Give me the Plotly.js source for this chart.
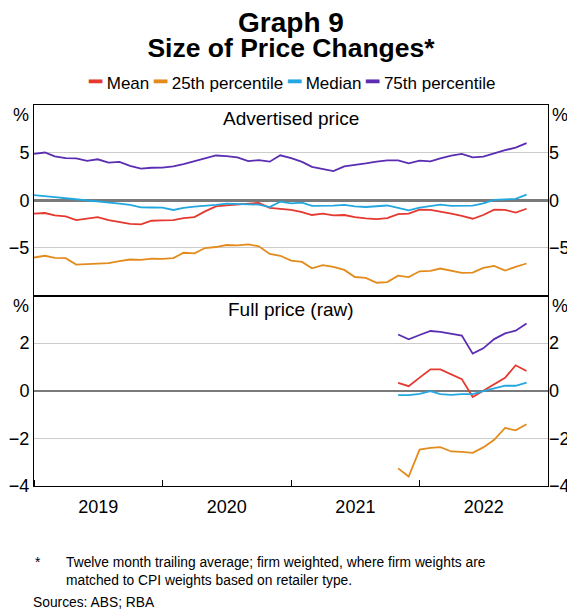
<!DOCTYPE html>
<html>
<head>
<meta charset="utf-8">
<script src="https://cdn.plot.ly/plotly-3.0.1.min.js"></script>
<style>html,body{margin:0;padding:0;background:#fff;}#chart{width:567px;height:615px;}</style>
</head>
<body>
<div id="chart"></div>
<script>
// Monthly dates, Jan 2019 – Nov 2022
const months = ['2019-01','2019-02','2019-03','2019-04','2019-05','2019-06','2019-07','2019-08','2019-09','2019-10','2019-11','2019-12',
  '2020-01','2020-02','2020-03','2020-04','2020-05','2020-06','2020-07','2020-08','2020-09','2020-10','2020-11','2020-12',
  '2021-01','2021-02','2021-03','2021-04','2021-05','2021-06','2021-07','2021-08','2021-09','2021-10','2021-11','2021-12',
  '2022-01','2022-02','2022-03','2022-04','2022-05','2022-06','2022-07','2022-08','2022-09','2022-10','2022-11'];
const fullMonths = ['2021-11','2021-12','2022-01','2022-02','2022-03','2022-04','2022-05','2022-06','2022-07','2022-08','2022-09','2022-10','2022-11'];

const seriesNames = ['Mean','25th percentile','Median','75th percentile'];
const seriesColors = ['#e5382f','#e38b1c','#22a7e0','#5a2db3'];

// Advertised price (%)
const advMean = [-1.41,-1.34,-1.59,-1.70,-2.08,-1.94,-1.77,-2.08,-2.30,-2.47,-2.54,-2.15,
  -2.12,-2.08,-1.87,-1.77,-1.17,-0.64,-0.53,-0.46,-0.35,-0.28,-0.80,-0.88,
  -1.02,-1.24,-1.55,-1.41,-1.59,-1.55,-1.77,-1.91,-1.98,-1.87,-1.45,-1.41,
  -0.99,-1.02,-1.24,-1.41,-1.63,-1.94,-1.55,-0.99,-1.02,-1.29,-0.89];
const advP25 = [-6.01,-5.83,-6.04,-6.08,-6.75,-6.71,-6.64,-6.61,-6.40,-6.22,-6.25,-6.13,
  -6.15,-6.08,-5.51,-5.58,-5.02,-4.91,-4.70,-4.74,-4.63,-4.84,-5.63,-5.83,
  -6.33,-6.47,-7.14,-6.82,-7.00,-7.31,-8.06,-8.16,-8.66,-8.59,-7.92,-8.06,
  -7.46,-7.42,-7.17,-7.42,-7.63,-7.60,-7.10,-6.89,-7.38,-7.00,-6.64];
const advMedian = [0.53,0.46,0.32,0.21,0.11,-0.07,-0.14,-0.21,-0.35,-0.49,-0.74,-0.76,
  -0.78,-1.02,-0.81,-0.67,-0.60,-0.49,-0.35,-0.39,-0.39,-0.46,-0.71,-0.14,
  -0.32,-0.25,-0.60,-0.60,-0.57,-0.49,-0.64,-0.71,-0.60,-0.55,-0.81,-1.06,
  -0.78,-0.60,-0.46,-0.60,-0.57,-0.57,-0.32,0.04,0.10,0.14,0.60];
const advP75 = [4.87,5.01,4.60,4.42,4.40,4.13,4.30,3.95,4.03,3.62,3.32,3.41,
  3.42,3.55,3.80,4.10,4.40,4.70,4.63,4.50,4.10,4.21,4.05,4.72,
  4.42,4.03,3.50,3.27,3.07,3.56,3.67,3.86,4.06,4.18,4.18,3.88,
  4.16,4.08,4.40,4.69,4.87,4.51,4.58,4.95,5.25,5.52,6.00];

// Full price (raw) (%)
const fullMean = [0.33,0.19,0.55,0.90,0.90,0.70,0.49,-0.26,0.00,0.25,0.54,1.07,0.83];
const fullP25 = [-3.26,-3.60,-2.47,-2.40,-2.37,-2.55,-2.57,-2.61,-2.38,-2.06,-1.56,-1.66,-1.41];
const fullMedian = [-0.18,-0.18,-0.13,-0.02,-0.14,-0.17,-0.14,-0.14,-0.02,0.08,0.21,0.21,0.34];
const fullP75 = [2.36,2.16,2.34,2.51,2.47,2.40,2.32,1.56,1.78,2.17,2.41,2.52,2.82];

const advTickVals = [-5, 0, 5];
const fullTickVals = [-4, -2, 0, 2];

const advSeries = [advMean, advP25, advMedian, advP75];
const fullSeries = [fullMean, fullP25, fullMedian, fullP75];

const traces = [];
advSeries.forEach((ys, i) => traces.push({
  type:'scatter', mode:'lines', x: months, y: ys, name: seriesNames[i],
  xaxis:'x2', yaxis:'y', line:{color: seriesColors[i], width:1.8}
}));
fullSeries.forEach((ys, i) => traces.push({
  type:'scatter', mode:'lines', x: fullMonths, y: ys, name: seriesNames[i],
  xaxis:'x', yaxis:'y2', line:{color: seriesColors[i], width:1.8}, showlegend:false
}));
// invisible companions so the right-hand mirrored axes are drawn
traces.push({type:'scatter', mode:'lines', x: months, y: advP75, xaxis:'x2', yaxis:'y3', line:{width:0}, opacity:0, hoverinfo:'skip', showlegend:false});
traces.push({type:'scatter', mode:'lines', x: fullMonths, y: fullP75, xaxis:'x', yaxis:'y4', line:{width:0}, opacity:0, hoverinfo:'skip', showlegend:false});

const FONT = 'Liberation Sans, Arial, Helvetica, sans-serif';
const tickFont = {family: FONT, size:18, color:'#000'};

const yCommon = {
  showgrid:true, gridcolor:'#cccccc', gridwidth:1,
  zeroline:true, zerolinecolor:'#7a7a7a', zerolinewidth:2.5,
  showline:true, linecolor:'#000', linewidth:1, mirror:true,
  ticks:'', tickfont: tickFont, fixedrange:true
};

const legendText = seriesNames.map((n, i) =>
  `<span style="color:${seriesColors[i]};font-size:22px">━</span> ${n}`).join(' ');

const pct = (xr, yr) => ({
  text:'%', xref:'paper', x: xr, xanchor: xr === 0 ? 'right' : 'left', xshift: xr === 0 ? -3 : 2,
  yref: yr, y:1, yanchor:'top', yshift:2, showarrow:false, font: tickFont
});

const layout = {
  width:567, height:615,
  margin:{l:34, r:19, t:105, b:129, pad:0},
  paper_bgcolor:'#fff', plot_bgcolor:'#fff',
  font:{family: FONT, color:'#000'},
  showlegend:false,
  title:{text:'<span style="font-size:28px">Graph 9</span><br><span style="font-size:26.5px">Size of Price Changes*</span>',
    font:{family: FONT, size:19.5, weight:700, color:'#000'},
    xref:'paper', x:0.5, xanchor:'center', yref:'container', y:1-32/615, yanchor:'top'},
  xaxis:{domain:[0,1], anchor:'y2', type:'date', range:['2019-01-01','2023-01-01'],
    tickmode:'linear', tick0:'2019-01-01', dtick:'M12', tickformat:'%Y', ticklabelmode:'period',
    ticks:'inside', ticklen:6, tickwidth:1, tickcolor:'#000', ticklabelstandoff:4,
    showline:true, linecolor:'#000', linewidth:1, mirror:true,
    showgrid:false, zeroline:false, tickfont: tickFont, fixedrange:true},
  xaxis2:{domain:[0,1], anchor:'y', type:'date', matches:'x', showticklabels:false, ticks:'',
    showline:true, linecolor:'#000', linewidth:1, mirror:true, showgrid:false, zeroline:false},
  yaxis: Object.assign({}, yCommon, {domain:[0.5,1], anchor:'x2', range:[-10,10], tickmode:'array', tickvals: advTickVals}),
  yaxis2: Object.assign({}, yCommon, {domain:[0,0.5], anchor:'x', range:[-4,4], tickmode:'array', tickvals: fullTickVals}),
  yaxis3:{overlaying:'y', side:'right', anchor:'x2', range:[-10,10], tickmode:'array', tickvals: advTickVals,
    showgrid:false, zeroline:false, showline:false, ticks:'', tickfont: tickFont, fixedrange:true},
  yaxis4:{overlaying:'y2', side:'right', anchor:'x', range:[-4,4], tickmode:'array', tickvals: fullTickVals,
    showgrid:false, zeroline:false, showline:false, ticks:'', tickfont: tickFont, fixedrange:true},
  annotations:[
    {text: legendText, xref:'paper', x:0.5, xanchor:'center', yref:'paper', y:1+(105-82)/381, yanchor:'middle',
      showarrow:false, font:{family: FONT, size:17, color:'#000'}},
    {text:'Advertised price', xref:'paper', x:0.5, xanchor:'center', yref:'y domain', y:0.928, yanchor:'middle',
      showarrow:false, font:{family: FONT, size:19, color:'#000'}},
    {text:'Full price (raw)', xref:'paper', x:0.5, xanchor:'center', yref:'y2 domain', y:0.924, yanchor:'middle',
      showarrow:false, font:{family: FONT, size:19, color:'#000'}},
    pct(0, 'y domain'), pct(1, 'y domain'), pct(0, 'y2 domain'), pct(1, 'y2 domain'),
    {text:'*', xref:'paper', x:-0.002, xanchor:'left', yref:'paper', y:-(553-486)/381, yanchor:'top',
      showarrow:false, font:{family: FONT, size:13.8, color:'#000'}},
    {text:'Twelve month trailing average; firm weighted, where firm weights are<br>matched to CPI weights based on retailer type.',
      xref:'paper', x:(64-34)/514, xanchor:'left', align:'left', yref:'paper', y:-(553-486)/381, yanchor:'top',
      showarrow:false, font:{family: FONT, size:13.8, color:'#000'}},
    {text:'Sources: ABS; RBA', xref:'paper', x:-0.006, xanchor:'left', yref:'paper', y:-(593-486)/381, yanchor:'top',
      showarrow:false, font:{family: FONT, size:13.8, color:'#000'}}
  ]
};

Plotly.newPlot('chart', traces, layout, {displayModeBar:false, staticPlot:true});
</script>
</body>
</html>
